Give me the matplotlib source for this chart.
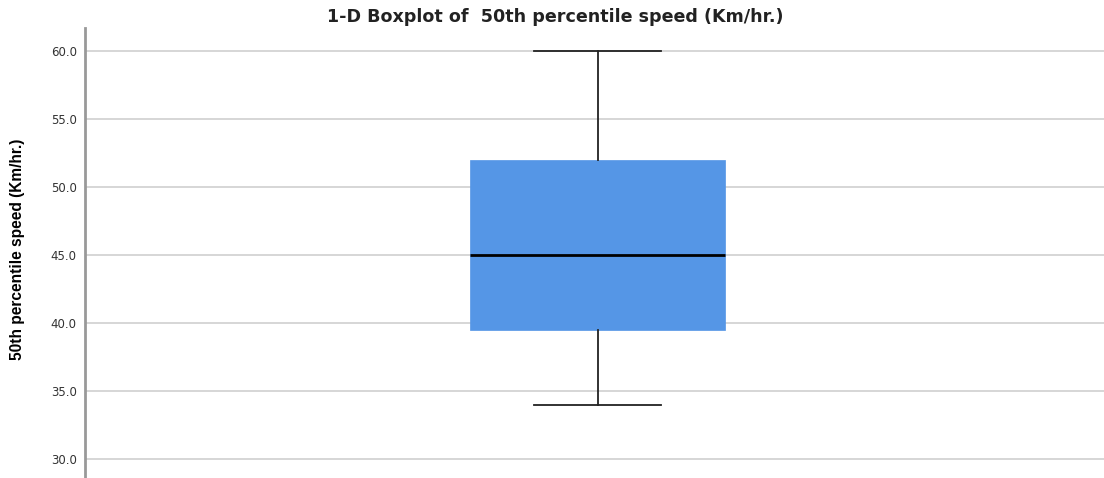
import matplotlib
matplotlib.use('Agg')
import matplotlib.pyplot as plt
from matplotlib import font_manager

# ==================== data
VAR_NAME = '50th percentile speed (Km/hr.)'
WHISKER_LOW = 34.0
Q1 = 39.5
MEDIAN = 45.0
Q3 = 52.0
WHISKER_HIGH = 60.0
YTICKS = [30.0, 35.0, 40.0, 45.0, 50.0, 55.0, 60.0]

BOX_COLOR = '#5596E6'
GRID_COLOR = '#CFCFCF'

names = {f.name for f in font_manager.fontManager.ttflist}
narrow = 'Liberation Sans Narrow' if 'Liberation Sans Narrow' in names else 'Liberation Sans'

fig = plt.figure(figsize=(11.04, 4.78), dpi=100)
ax = fig.add_axes([85 / 1104, 0.0, 1 - 85 / 1104, 1 - 28 / 478])

stats = [dict(whislo=WHISKER_LOW, q1=Q1, med=MEDIAN, q3=Q3, whishi=WHISKER_HIGH, fliers=[])]
ax.bxp(stats, positions=[0.5], widths=0.251, patch_artist=True, showfliers=False,
       boxprops=dict(facecolor=BOX_COLOR, edgecolor=BOX_COLOR, linewidth=0.5),
       medianprops=dict(color='black', linewidth=2),
       whiskerprops=dict(color='#222222', linewidth=1.3),
       capprops=dict(color='#222222', linewidth=1.3),
       capwidths=0.124)

ax.set_xlim(-0.003, 0.997)
ax.set_ylim(28.6, 61.7)
ax.set_yticks(YTICKS)
ax.set_yticklabels([f'{v:.1f}' for v in YTICKS], fontsize=8.5, color='#333333',
                   fontfamily='DejaVu Sans')
ax.tick_params(axis='y', length=0, pad=6)
ax.set_xticks([])
ax.yaxis.grid(True, color=GRID_COLOR, linewidth=1.2)
ax.set_axisbelow(True)

for side in ['top', 'right', 'bottom']:
    ax.spines[side].set_visible(False)
ax.spines['left'].set_color('#999999')
ax.spines['left'].set_linewidth(2)

fig.text(0.503, 1 - 17 / 478, f'1-D Boxplot of  {VAR_NAME}', ha='center', va='center',
         fontsize=12.6, fontweight='bold', fontfamily='DejaVu Sans', color='#222222')
fig.text(18 / 1104, 1 - 249 / 478, VAR_NAME, rotation=90, ha='center', va='center',
         fontsize=11.2, fontweight='bold', fontfamily=narrow, color='black')

fig.savefig('out.png', dpi=100)
